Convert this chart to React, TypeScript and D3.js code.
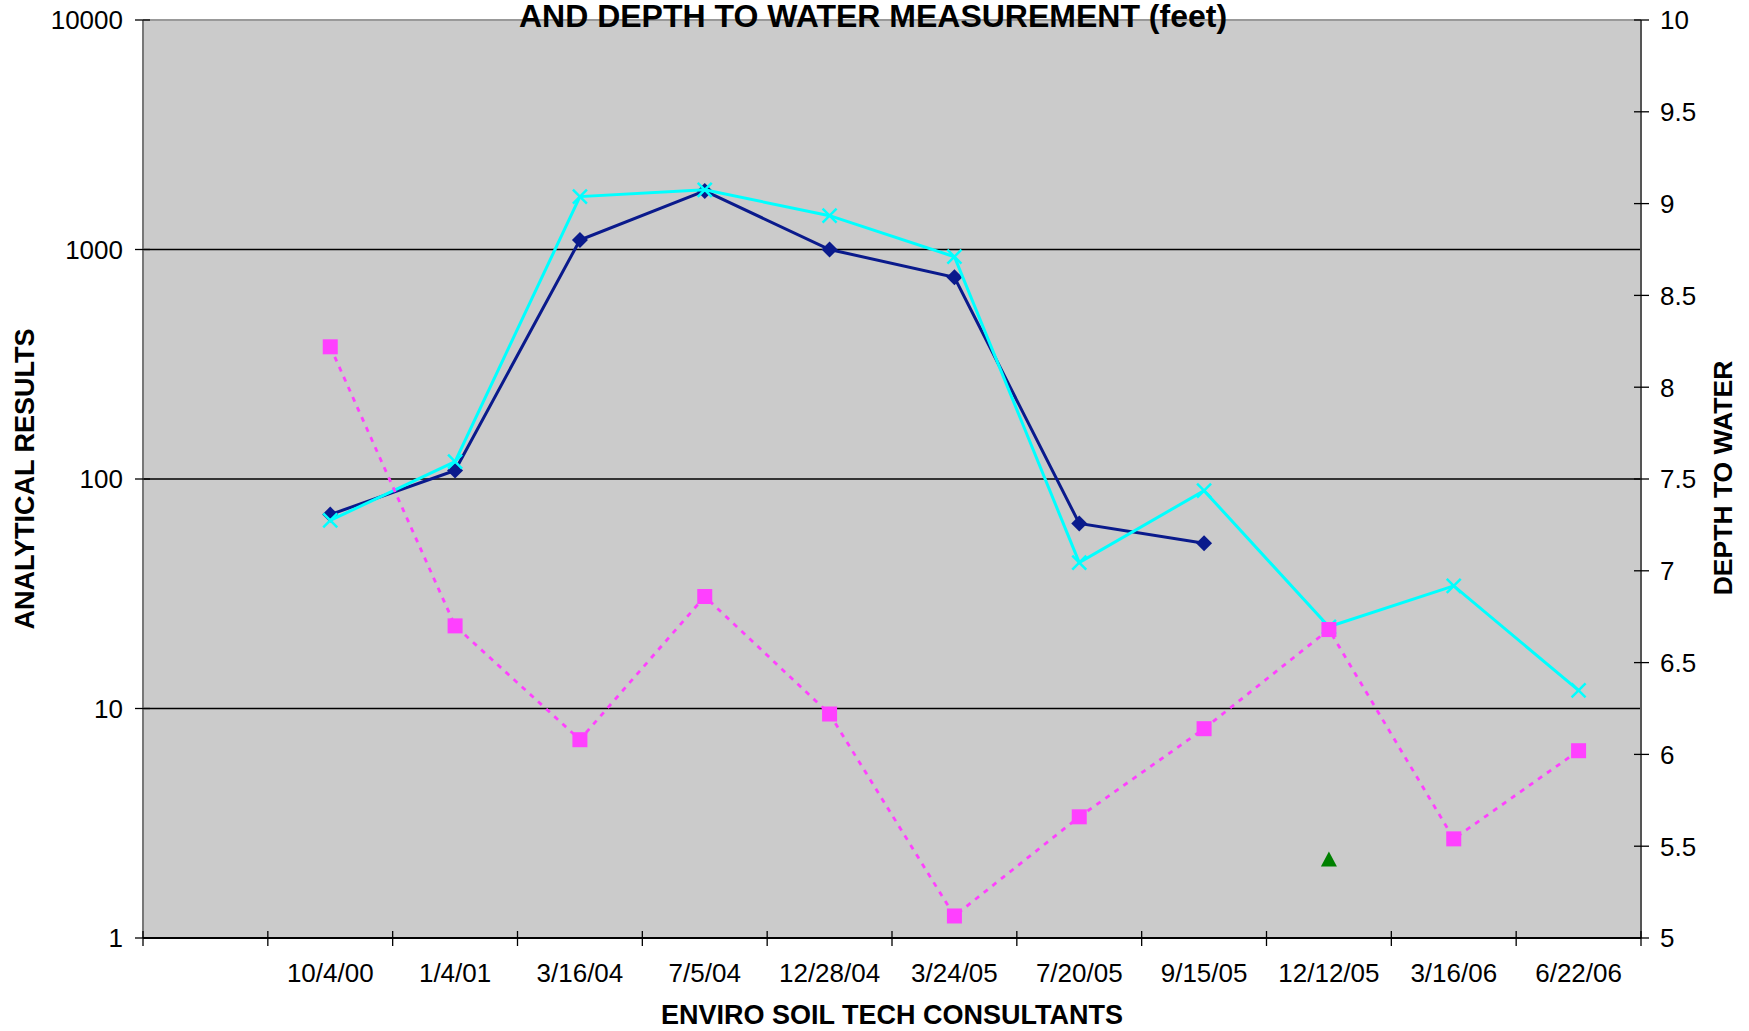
import React from 'react';
import { scaleBand, scaleLog, scaleLinear, line } from 'd3';

// categories (first slot is an empty category in the original workbook)
const DATES = ["", "10/4/00", "1/4/01", "3/16/04", "7/5/04", "12/28/04", "3/24/05", "7/20/05", "9/15/05", "12/12/05", "3/16/06", "6/22/06"];

// left axis, analytical results (log)
const SERIES_NAVY = [null, 70, 109, 1100, 1800, 1000, 757, 64, 52.5, null, null, null];
const SERIES_CYAN = [null, 66, 119, 1700, 1820, 1404, 930, 43.2, 89, 22.7, 34.2, 12];
const SERIES_GREEN = [null, null, null, null, null, null, null, null, null, 2.2, null, null];

// right axis, depth to water (feet)
const DEPTH = [null, 8.22, 6.70, 6.08, 6.86, 6.22, 5.12, 5.66, 6.14, 6.68, 5.54, 6.02];

const LEFT_TICKS = [1, 10, 100, 1000, 10000];
const RIGHT_TICKS = [5, 5.5, 6, 6.5, 7, 7.5, 8, 8.5, 9, 9.5, 10];

const W = 1749;
const H = 1031;
const FONT = '"Liberation Sans", Arial, sans-serif';

export default function App() {
  const left = 143, right = 1641, top = 20, bottom = 938;

  const x = scaleBand().domain(DATES.map((d, i) => String(i))).range([left, right]);
  const cx = (i: number) => x(String(i))! + x.bandwidth() / 2;
  const yL = scaleLog().domain([1, 10000]).range([bottom, top]);
  const yR = scaleLinear().domain([5, 10]).range([bottom, top]);

  const pts = (arr: (number | null)[], sc: (v: number) => number) =>
    arr.map((v, i) => (v == null ? null : [cx(i), sc(v)] as [number, number])).filter(Boolean) as [number, number][];

  const lineGen = line();

  const navy = pts(SERIES_NAVY, yL);
  const cyan = pts(SERIES_CYAN, yL);
  const green = pts(SERIES_GREEN, yL);
  const pink = pts(DEPTH, yR);

  const bandEdges = DATES.map((d, i) => x(String(i))!).concat([right]);

  return (
    <svg width={W} height={H} style={{ position: 'absolute', left: 0, top: 0, display: 'block' }} fontFamily={FONT}>
      <rect x={0} y={0} width={W} height={H} fill="#fff" />
      <rect x={left} y={top} width={right - left} height={bottom - top} fill="#cbcbcb" />

      {/* gridlines */}
      {LEFT_TICKS.slice(1, -1).map(t => (
        <line key={t} x1={left} x2={right} y1={yL(t)} y2={yL(t)} stroke="#000" strokeWidth={1.3} />
      ))}

      {/* plot border / axes */}
      <line x1={left} x2={right} y1={top} y2={top} stroke="#999" strokeWidth={2} />
      <line x1={left} x2={left} y1={top} y2={bottom} stroke="#777" strokeWidth={2} />
      <line x1={right} x2={right} y1={top} y2={bottom} stroke="#555" strokeWidth={2} />
      <line x1={left} x2={right} y1={bottom} y2={bottom} stroke="#000" strokeWidth={2} />

      {/* left ticks */}
      {LEFT_TICKS.map(t => (
        <g key={t}>
          <line x1={left - 8} x2={left + 7} y1={yL(t)} y2={yL(t)} stroke="#000" strokeWidth={1.3} />
          <text x={123} y={yL(t)} dy="0.36em" textAnchor="end" fontSize={26}>{t}</text>
        </g>
      ))}

      {/* right ticks */}
      {RIGHT_TICKS.map(t => (
        <g key={t}>
          <line x1={right - 7} x2={right + 8} y1={yR(t)} y2={yR(t)} stroke="#000" strokeWidth={1.3} />
          <text x={1660} y={yR(t)} dy="0.36em" textAnchor="start" fontSize={26}>{t}</text>
        </g>
      ))}

      {/* x ticks and labels */}
      {bandEdges.map((e, i) => (
        <line key={i} x1={e} x2={e} y1={bottom - 7} y2={bottom + 8} stroke="#000" strokeWidth={1.3} />
      ))}
      {DATES.map((d, i) => (
        <text key={i} x={cx(i)} y={982} textAnchor="middle" fontSize={26}>{d}</text>
      ))}

      {/* navy diamonds */}
      <path d={lineGen(navy)!} fill="none" stroke="#0a1a8c" strokeWidth={3} />
      {navy.map(([px, py], i) => (
        <path key={i} d={`M${px},${py - 8}L${px + 8},${py}L${px},${py + 8}L${px - 8},${py}Z`} fill="#0a1a8c" />
      ))}

      {/* cyan crosses */}
      <path d={lineGen(cyan)!} fill="none" stroke="#00ffff" strokeWidth={3} />
      {cyan.map(([px, py], i) => (
        <path key={i} d={`M${px - 7},${py - 7}L${px + 7},${py + 7}M${px - 7},${py + 7}L${px + 7},${py - 7}`} stroke="#00ffff" strokeWidth={2.5} />
      ))}

      {/* green triangle */}
      {green.map(([px, py], i) => (
        <path key={i} d={`M${px},${py - 8}L${px + 8},${py + 7}L${px - 8},${py + 7}Z`} fill="#008000" />
      ))}

      {/* depth to water, dotted magenta */}
      <path d={lineGen(pink)!} fill="none" stroke="#ff40ff" strokeWidth={2.8} strokeDasharray="5,6" />
      {pink.map(([px, py], i) => (
        <rect key={i} x={px - 7.5} y={py - 7.5} width={15} height={15} fill="#ff40ff" />
      ))}

      {/* titles */}
      <text x={873} y={27} textAnchor="middle" fontSize={32} fontWeight="bold">AND DEPTH TO WATER MEASUREMENT (feet)</text>
      <text x={892} y={1024} textAnchor="middle" fontSize={27} fontWeight="bold">ENVIRO SOIL TECH CONSULTANTS</text>
      <text transform={`translate(34,${(top + bottom) / 2}) rotate(-90)`} textAnchor="middle" fontSize={27} fontWeight="bold">ANALYTICAL RESULTS</text>
      <text transform={`translate(1732,${(top + bottom) / 2 - 1}) rotate(-90)`} textAnchor="middle" fontSize={26.5} fontWeight="bold">DEPTH TO WATER</text>
    </svg>
  );
}
